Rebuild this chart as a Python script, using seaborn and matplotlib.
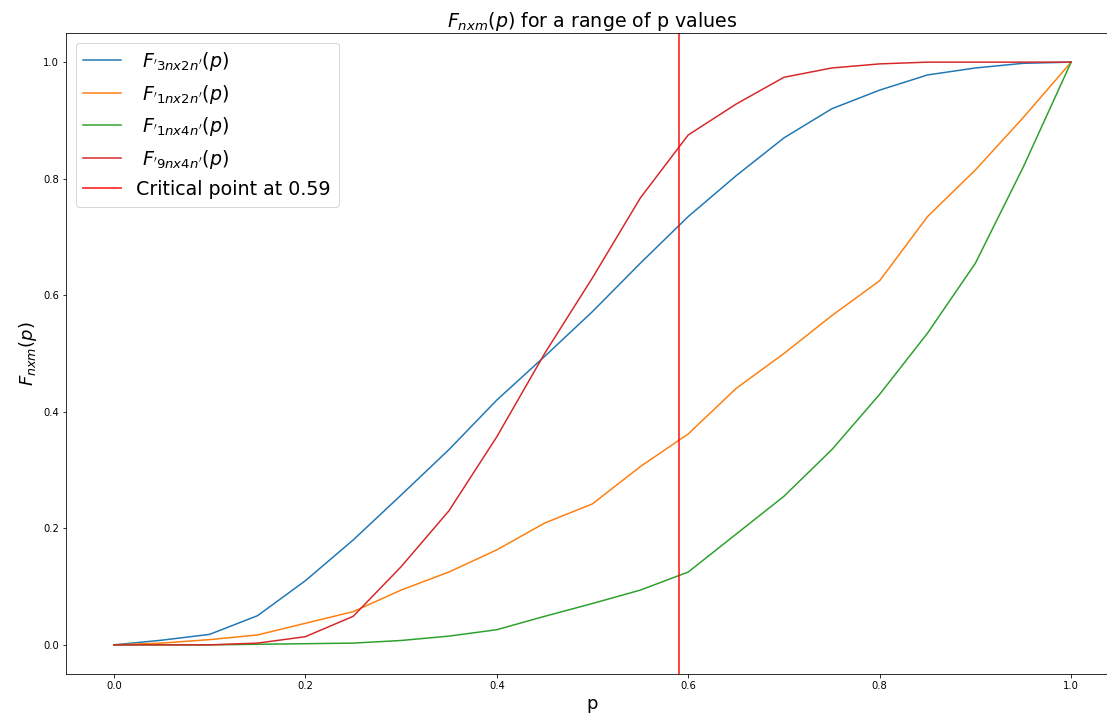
import matplotlib
matplotlib.use("Agg")
import matplotlib.pyplot as plt
import seaborn as sns
import numpy as np

# p values at which the curves were read
p_values = [0.00, 0.05, 0.10, 0.15, 0.20, 0.25, 0.30, 0.35, 0.40, 0.45, 0.50,
            0.55, 0.60, 0.65, 0.70, 0.75, 0.80, 0.85, 0.90, 0.95, 1.00]

f_3nx2n = [0, 0.008, 0.018, 0.05, 0.11, 0.18, 0.257, 0.335, 0.42, 0.495, 0.572,
           0.655, 0.735, 0.805, 0.87, 0.92, 0.952, 0.978, 0.99, 0.998, 1.0]
f_1nx2n = [0, 0.003, 0.009, 0.017, 0.037, 0.057, 0.094, 0.125, 0.163, 0.209, 0.242,
           0.306, 0.362, 0.44, 0.5, 0.565, 0.625, 0.735, 0.815, 0.905, 1.0]
f_1nx4n = [0, 0, 0, 0.001, 0.002, 0.003, 0.0075, 0.015, 0.026, 0.049, 0.071,
           0.094, 0.125, 0.19, 0.255, 0.335, 0.43, 0.535, 0.655, 0.82, 1.0]
f_9nx4n = [0, 0, 0, 0.003, 0.014, 0.049, 0.134, 0.23, 0.357, 0.5, 0.63,
           0.767, 0.875, 0.928, 0.974, 0.99, 0.997, 1.0, 1.0, 1.0, 1.0]

series_labels = [r" $F_{'3nx2n'}(p)$", r" $F_{'1nx2n'}(p)$",
                 r" $F_{'1nx4n'}(p)$", r" $F_{'9nx4n'}(p)$"]
critical_p = 0.59
critical_label = "Critical point at 0.59"
x_ticks = [0.0, 0.2, 0.4, 0.6, 0.8, 1.0]
y_ticks = [0.0, 0.2, 0.4, 0.6, 0.8, 1.0]

W, H, DPI = 1107, 716, 72
fig = plt.figure(figsize=(W / DPI, H / DPI), dpi=DPI)
ax = fig.add_axes([66 / W, (H - 674) / H, (1119 - 66) / W, (674 - 33) / H])

palette = sns.color_palette("tab10")
for vals, lab, col in zip([f_3nx2n, f_1nx2n, f_1nx4n, f_9nx4n], series_labels, palette[:4]):
    sns.lineplot(x=p_values, y=vals, label=lab, color=col, linewidth=1.5, ax=ax)

ax.axvline(critical_p, color="red", alpha=0.8, linewidth=1.8, label=critical_label)

ax.set_xticks(x_ticks)
ax.set_yticks(y_ticks)
ax.set_xlim(-0.05, 1.05)
ax.set_ylim(-0.05, 1.05)
ax.tick_params(labelsize=10)
ax.set_title(r"$F_{nxm}(p)$ for a range of p values", fontsize=19)
ax.set_xlabel("p", fontsize=18)
ax.set_ylabel(r"$F_{nxm}(p)$", fontsize=18)
ax.legend(loc="upper left", fontsize=19)

fig.savefig("out.png", dpi=DPI)
